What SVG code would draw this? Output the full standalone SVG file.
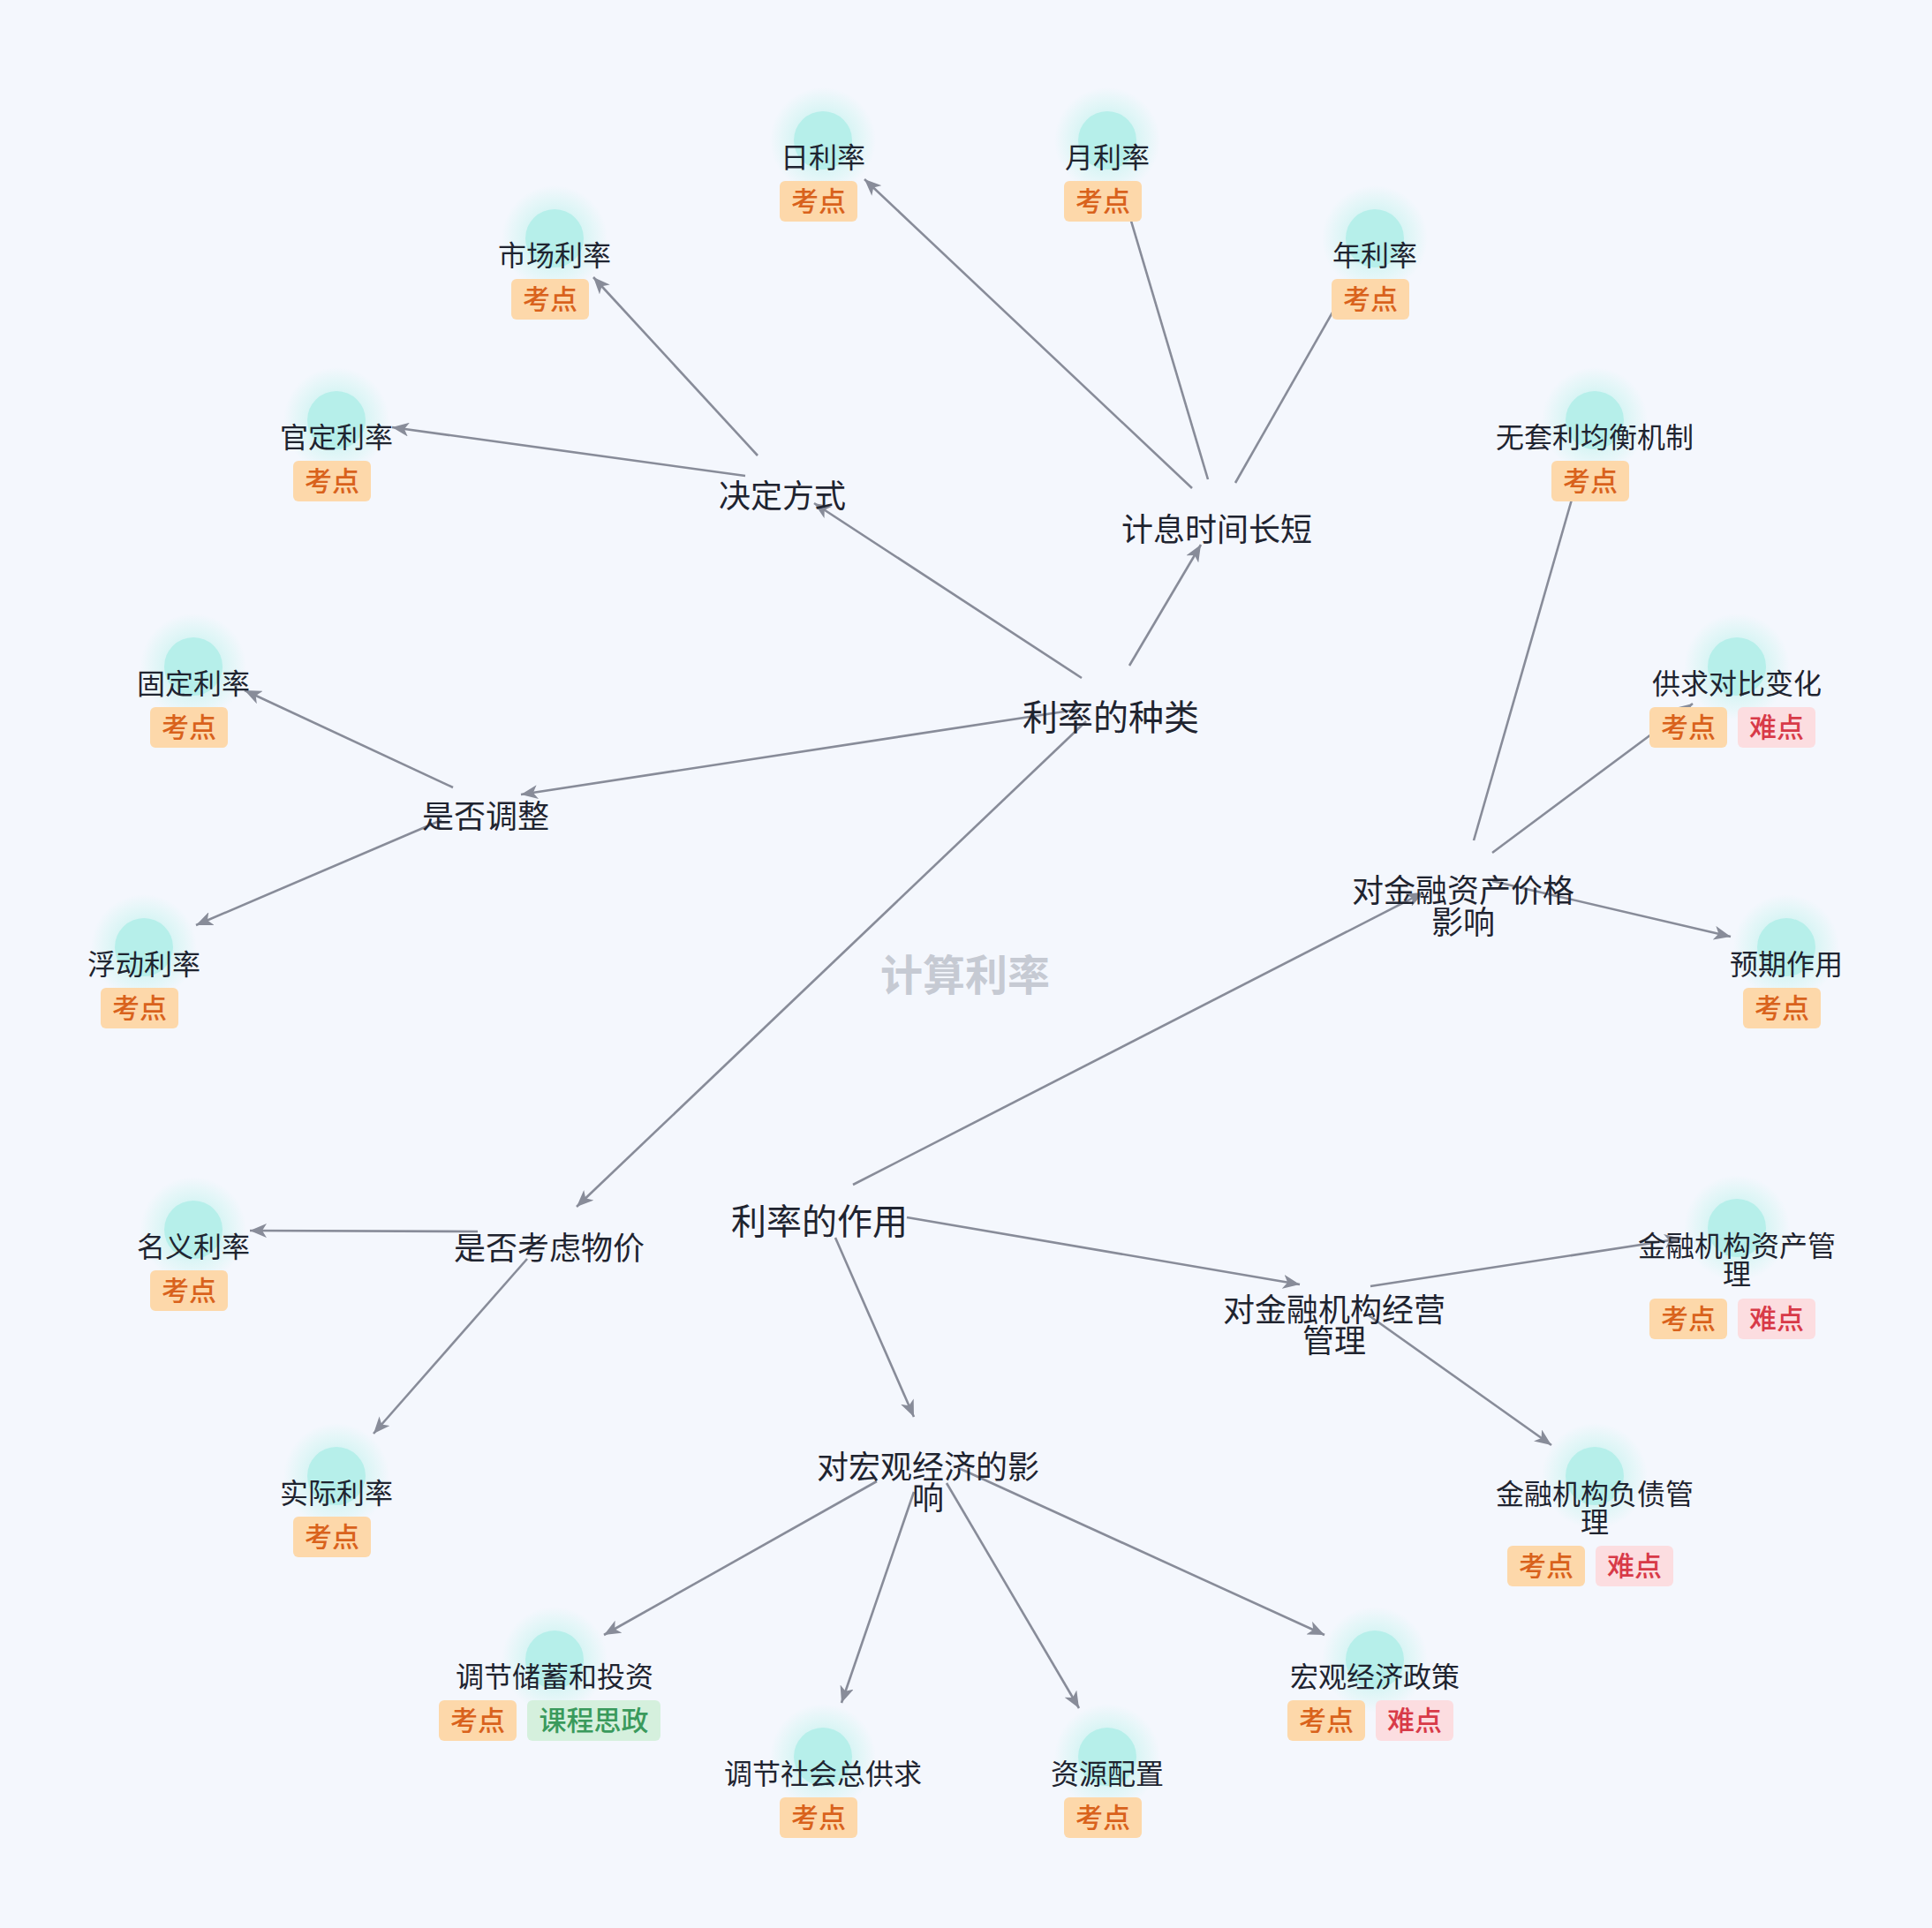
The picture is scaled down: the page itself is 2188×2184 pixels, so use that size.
<svg xmlns="http://www.w3.org/2000/svg" width="2188" height="2184" viewBox="0 0 2188 2184">
<defs>
<style>
text{font-family:"Noto Sans CJK SC","Noto Sans",sans-serif;text-anchor:middle;fill:#1f2430}
.leaf{font-size:32px}
.mid{font-size:36px}
.top{font-size:40px}
.wm{font-size:48px;font-weight:700;fill:#c6cad3}
.edge{stroke:#888c99;stroke-width:2.6;fill:none;marker-end:url(#arr)}
.core{fill:#b6efea}
.halo{fill:url(#glow)}
.bk{fill:#fdd8aa}
.bkt{font-size:31px;font-weight:500;fill:#d9621c}
.bn{fill:#fcdde0}
.bnt{font-size:31px;font-weight:500;fill:#d83a48}
.bg{fill:#d5f0dd}
.bgt{font-size:31px;font-weight:500;fill:#3a9a5c}
</style>
<radialGradient id="glow">
<stop offset="0.45" stop-color="#c2f2ee" stop-opacity="0.7"/>
<stop offset="0.75" stop-color="#d2f5f2" stop-opacity="0.45"/>
<stop offset="1" stop-color="#d2f5f2" stop-opacity="0"/>
</radialGradient>
<marker id="arr" markerUnits="userSpaceOnUse" markerWidth="20" markerHeight="16" refX="19" refY="8" orient="auto">
<path d="M0,0 L19,8 L0,16 L5,8 Z" fill="#888c99"/>
</marker>
</defs>
<rect width="2188" height="2184" fill="#f4f7fd"/>
<text class="wm" x="1093" y="1122">计算利率</text>
<g id="connectors">
<line class="edge" x1="1225" y1="768" x2="922" y2="570"/>
<line class="edge" x1="1279" y1="754" x2="1360" y2="617"/>
<line class="edge" x1="1225" y1="803" x2="590" y2="900"/>
<line class="edge" x1="1230" y1="817" x2="653" y2="1367"/>
<line class="edge" x1="858" y1="516" x2="672" y2="314"/>
<line class="edge" x1="844" y1="539" x2="444" y2="484"/>
<line class="edge" x1="1350" y1="553" x2="979" y2="203"/>
<line class="edge" x1="1368" y1="543" x2="1272" y2="220"/>
<line class="edge" x1="1399" y1="547" x2="1525" y2="326"/>
<line class="edge" x1="513" y1="892" x2="277" y2="782"/>
<line class="edge" x1="500" y1="929" x2="222" y2="1048"/>
<line class="edge" x1="1669" y1="952" x2="1788" y2="538"/>
<line class="edge" x1="1690" y1="966" x2="1917" y2="797"/>
<line class="edge" x1="1690" y1="998" x2="1960" y2="1061"/>
<line class="edge" x1="966" y1="1342" x2="1612" y2="1011"/>
<line class="edge" x1="1027" y1="1379" x2="1472" y2="1455"/>
<line class="edge" x1="946" y1="1402" x2="1035" y2="1605"/>
<line class="edge" x1="541" y1="1395" x2="283" y2="1394"/>
<line class="edge" x1="597" y1="1426" x2="423" y2="1624"/>
<line class="edge" x1="1552" y1="1457" x2="1904" y2="1403"/>
<line class="edge" x1="1550" y1="1490" x2="1757" y2="1637"/>
<line class="edge" x1="993" y1="1678" x2="684" y2="1852"/>
<line class="edge" x1="1035" y1="1690" x2="953" y2="1929"/>
<line class="edge" x1="1072" y1="1680" x2="1222" y2="1935"/>
<line class="edge" x1="1088" y1="1664" x2="1500" y2="1852"/>
</g>
<g id="n-zhonglei"><text class="top" x="1258" y="827">利率的种类</text></g>
<g id="n-zuoyong"><text class="top" x="928" y="1398">利率的作用</text></g>
<g id="n-jueding"><text class="mid" x="886" y="575">决定方式</text></g>
<g id="n-jixi"><text class="mid" x="1378" y="613">计息时间长短</text></g>
<g id="n-tiaozheng"><text class="mid" x="550" y="938">是否调整</text></g>
<g id="n-wujia"><text class="mid" x="622" y="1427">是否考虑物价</text></g>
<g id="n-zichanjiage"><text class="mid" x="1657" y="1022">对金融资产价格</text><text class="mid" x="1657" y="1058">影响</text></g>
<g id="n-jingying"><text class="mid" x="1511" y="1497">对金融机构经营</text><text class="mid" x="1511" y="1532">管理</text></g>
<g id="n-hongguan"><text class="mid" x="1051" y="1675">对宏观经济的影</text><text class="mid" x="1051" y="1710">响</text></g>

<g id="l-ri"><circle class="halo" cx="932" cy="159" r="60"/><circle class="core" cx="932" cy="159" r="33"/><text class="leaf" x="932" y="190">日利率</text><rect class="bk" x="883" y="205" width="88" height="46" rx="6"/><text class="bkt" x="927" y="239">考点</text></g>
<g id="l-yue"><circle class="halo" cx="1254" cy="159" r="60"/><circle class="core" cx="1254" cy="159" r="33"/><text class="leaf" x="1254" y="190">月利率</text><rect class="bk" x="1205" y="205" width="88" height="46" rx="6"/><text class="bkt" x="1249" y="239">考点</text></g>
<g id="l-nian"><circle class="halo" cx="1557" cy="270" r="60"/><circle class="core" cx="1557" cy="270" r="33"/><text class="leaf" x="1557" y="301">年利率</text><rect class="bk" x="1508" y="316" width="88" height="46" rx="6"/><text class="bkt" x="1552" y="350">考点</text></g>
<g id="l-shichang"><circle class="halo" cx="628" cy="270" r="60"/><circle class="core" cx="628" cy="270" r="33"/><text class="leaf" x="628" y="301">市场利率</text><rect class="bk" x="579" y="316" width="88" height="46" rx="6"/><text class="bkt" x="623" y="350">考点</text></g>
<g id="l-guanding"><circle class="halo" cx="381" cy="476" r="60"/><circle class="core" cx="381" cy="476" r="33"/><text class="leaf" x="381" y="507">官定利率</text><rect class="bk" x="332" y="522" width="88" height="46" rx="6"/><text class="bkt" x="376" y="556">考点</text></g>
<g id="l-guding"><circle class="halo" cx="219" cy="755" r="60"/><circle class="core" cx="219" cy="755" r="33"/><text class="leaf" x="219" y="786">固定利率</text><rect class="bk" x="170" y="801" width="88" height="46" rx="6"/><text class="bkt" x="214" y="835">考点</text></g>
<g id="l-fudong"><circle class="halo" cx="163" cy="1073" r="60"/><circle class="core" cx="163" cy="1073" r="33"/><text class="leaf" x="163" y="1104">浮动利率</text><rect class="bk" x="114" y="1119" width="88" height="46" rx="6"/><text class="bkt" x="158" y="1153">考点</text></g>
<g id="l-wutaoli"><circle class="halo" cx="1806" cy="476" r="60"/><circle class="core" cx="1806" cy="476" r="33"/><text class="leaf" x="1806" y="507">无套利均衡机制</text><rect class="bk" x="1757" y="522" width="88" height="46" rx="6"/><text class="bkt" x="1801" y="556">考点</text></g>
<g id="l-gongqiu"><circle class="halo" cx="1967" cy="755" r="60"/><circle class="core" cx="1967" cy="755" r="33"/><text class="leaf" x="1967" y="786">供求对比变化</text><rect class="bk" x="1868" y="801" width="88" height="46" rx="6"/><text class="bkt" x="1912" y="835">考点</text><rect class="bn" x="1968" y="801" width="88" height="46" rx="6"/><text class="bnt" x="2012" y="835">难点</text></g>
<g id="l-yuqi"><circle class="halo" cx="2023" cy="1073" r="60"/><circle class="core" cx="2023" cy="1073" r="33"/><text class="leaf" x="2023" y="1104">预期作用</text><rect class="bk" x="1974" y="1119" width="88" height="46" rx="6"/><text class="bkt" x="2018" y="1153">考点</text></g>
<g id="l-mingyi"><circle class="halo" cx="219" cy="1393" r="60"/><circle class="core" cx="219" cy="1393" r="33"/><text class="leaf" x="219" y="1424">名义利率</text><rect class="bk" x="170" y="1439" width="88" height="46" rx="6"/><text class="bkt" x="214" y="1473">考点</text></g>
<g id="l-shiji"><circle class="halo" cx="381" cy="1672" r="60"/><circle class="core" cx="381" cy="1672" r="33"/><text class="leaf" x="381" y="1703">实际利率</text><rect class="bk" x="332" y="1718" width="88" height="46" rx="6"/><text class="bkt" x="376" y="1752">考点</text></g>
<g id="l-zichan"><circle class="halo" cx="1967" cy="1391" r="60"/><circle class="core" cx="1967" cy="1391" r="33"/><text class="leaf" x="1967" y="1423">金融机构资产管</text><text class="leaf" x="1967" y="1455">理</text><rect class="bk" x="1868" y="1471" width="88" height="46" rx="6"/><text class="bkt" x="1912" y="1505">考点</text><rect class="bn" x="1968" y="1471" width="88" height="46" rx="6"/><text class="bnt" x="2012" y="1505">难点</text></g>
<g id="l-fuzhai"><circle class="halo" cx="1806" cy="1672" r="60"/><circle class="core" cx="1806" cy="1672" r="33"/><text class="leaf" x="1806" y="1704">金融机构负债管</text><text class="leaf" x="1806" y="1736">理</text><rect class="bk" x="1707" y="1751" width="88" height="46" rx="6"/><text class="bkt" x="1751" y="1785">考点</text><rect class="bn" x="1807" y="1751" width="88" height="46" rx="6"/><text class="bnt" x="1851" y="1785">难点</text></g>
<g id="l-chuxu"><circle class="halo" cx="628" cy="1880" r="60"/><circle class="core" cx="628" cy="1880" r="33"/><text class="leaf" x="628" y="1911">调节储蓄和投资</text><rect class="bk" x="497" y="1926" width="88" height="46" rx="6"/><text class="bkt" x="541" y="1960">考点</text><rect class="bg" x="597" y="1926" width="151" height="46" rx="6"/><text class="bgt" x="672.5" y="1960">课程思政</text></g>
<g id="l-gongqiuzong"><circle class="halo" cx="932" cy="1990" r="60"/><circle class="core" cx="932" cy="1990" r="33"/><text class="leaf" x="932" y="2021">调节社会总供求</text><rect class="bk" x="883" y="2036" width="88" height="46" rx="6"/><text class="bkt" x="927" y="2070">考点</text></g>
<g id="l-ziyuan"><circle class="halo" cx="1254" cy="1990" r="60"/><circle class="core" cx="1254" cy="1990" r="33"/><text class="leaf" x="1254" y="2021">资源配置</text><rect class="bk" x="1205" y="2036" width="88" height="46" rx="6"/><text class="bkt" x="1249" y="2070">考点</text></g>
<g id="l-zhengce"><circle class="halo" cx="1557" cy="1880" r="60"/><circle class="core" cx="1557" cy="1880" r="33"/><text class="leaf" x="1557" y="1911">宏观经济政策</text><rect class="bk" x="1458" y="1926" width="88" height="46" rx="6"/><text class="bkt" x="1502" y="1960">考点</text><rect class="bn" x="1558" y="1926" width="88" height="46" rx="6"/><text class="bnt" x="1602" y="1960">难点</text></g>
</svg>
